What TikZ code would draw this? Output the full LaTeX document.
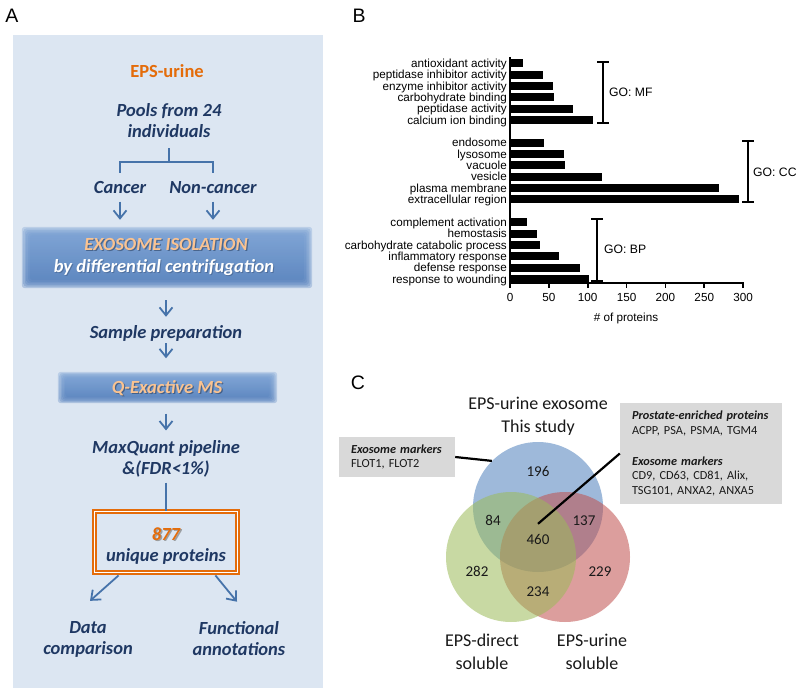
\documentclass[tikz,border=0pt]{standalone}
\usepackage{fontspec}
\setmainfont{Carlito}
\newfontfamily\arialf{Liberation Sans}
\usetikzlibrary{arrows.meta,calc}
\definecolor{panelbg}{RGB}{220,230,242}
\definecolor{navy}{RGB}{31,56,99}
\definecolor{steel}{RGB}{70,115,170}
\definecolor{orng}{RGB}{228,108,10}
\definecolor{lorng}{RGB}{250,195,145}
\definecolor{bandtop}{RGB}{118,158,210}
\definecolor{bandbot}{RGB}{82,126,188}
\definecolor{boxgray}{RGB}{217,217,217}
\definecolor{vblue}{RGB}{79,129,189}
\definecolor{vred}{RGB}{192,80,77}
\definecolor{vgreen}{RGB}{155,187,89}
\definecolor{shadowc}{RGB}{40,60,90}
\definecolor{txt}{RGB}{25,25,25}
\begin{document}
\begin{tikzpicture}[x=1pt,y=-1pt,
  atext/.style={font=\fontsize{18.5}{21}\selectfont\bfseries\itshape, text=navy, align=center, inner sep=0pt},
  one/.style={text height=13pt, text depth=4pt},
  arr/.style={draw=steel, line width=1.8pt, -{Straight Barb[length=8pt,width=13pt,line width=1.8pt]}},
  conn/.style={draw=steel, line width=1.7pt},
  plabel/.style={font=\arialf\fontsize{19.5}{22}\selectfont, inner sep=0pt},
  blabel/.style={font=\arialf\fontsize{11.7}{12}\selectfont, inner sep=0pt, text height=8.4pt, text depth=0pt},
  golabel/.style={font=\arialf\fontsize{12.2}{13}\selectfont, inner sep=0pt, text height=8.7pt, text depth=0pt, anchor=west},
  axisl/.style={line width=1.6pt},
  brkt/.style={line width=2pt},
  band/.style={inner sep=0pt},
  dbox/.style={draw=orng, line width=1.8pt, double=white, double distance=1.6pt, inner sep=0pt, minimum width=143pt, minimum height=61pt},
  vc/.style={circle, minimum size=130pt, inner sep=0pt, fill opacity=0.55},
  vnum/.style={font=\fontsize{15}{16}\selectfont, text=txt, inner sep=0pt, text height=10pt, text depth=0pt},
  vlab/.style={font=\fontsize{18}{23}\selectfont, text=txt, align=center, inner sep=0pt},
  gbox/.style={fill=boxgray, align=left, inner xsep=12pt, inner ysep=0pt, font=\fontsize{12.3}{14.5}\selectfont, text=txt},
  lead/.style={line width=2.2pt, draw=black}
]
\useasboundingbox (0,0) rectangle (800,695);
\fill[white] (0,0) rectangle (800,695);

% ---------------- Panel A ----------------
\node[plabel] (labA) at (12,16) {A};
\fill[panelbg] (13,35) rectangle (323,688);
\node[atext, one, text=orng, font=\fontsize{18.5}{21}\selectfont\bfseries] (eps) at (167,73) {EPS-urine};
\node[atext] (pools) at (169,121) {Pools from 24\\individuals};
\node[atext, one] (cancer) at (120,189) {Cancer};
\node[atext, one] (noncancer) at (213,189) {Non-cancer};
\coordinate (split) at (169,162);
\draw[conn, shorten <=10pt] (pools.south) -- (split);
\draw[conn] ([yshift=7.5pt]cancer.north) |- (split) -| ([yshift=7.5pt]noncancer.north);

% exosome isolation band
\node[band, minimum width=290pt, minimum height=61pt] (iso) at (167,257.5) {};
\foreach \k in {0,...,5}
  \shade[top color=bandtop, bottom color=bandbot, opacity=0.32, rounded corners=3pt]
    ($(iso.south west)+(\k*1.6,-\k*1.6)$) rectangle ($(iso.north east)+(-\k*1.6,\k*1.6)$);
\node[atext, one, text=shadowc, opacity=0.55] (isoshadow) at (167.3,247.3) {EXOSOME ISOLATION};
\node[atext, one, text=lorng] (isot) at (166,246) {EXOSOME ISOLATION};
\node[atext, one, text=shadowc, opacity=0.35] (isobshadow) at (165,269) {by differential centrifugation};
\node[atext, one, text=white] (isob) at (164,268) {by differential centrifugation};
\draw[arr, shorten <=4pt, shorten >=7pt] (cancer.south) -- (cancer.south |- iso.north);
\draw[arr, shorten <=4pt, shorten >=7pt] (noncancer.south) -- (noncancer.south |- iso.north);

\node[atext, one] (sample) at (166,334) {Sample preparation};
\draw[arr, shorten <=12pt, shorten >=8.5pt] (sample.north |- iso.south) -- (sample.north);

% Q-Exactive band
\node[band, minimum width=219pt, minimum height=31pt] (qex) at (167.5,387.5) {};
\foreach \k in {0,...,5}
  \shade[top color=bandtop, bottom color=bandbot, opacity=0.32, rounded corners=3pt]
    ($(qex.south west)+(\k*1.5,-\k*1.2)$) rectangle ($(qex.north east)+(-\k*1.5,\k*1.2)$);
\node[atext, one, text=shadowc, opacity=0.55] (qexshadow) at (168.3,390.3) {Q-Exactive MS};
\node[atext, one, text=lorng] (qext) at (167,389) {Q-Exactive MS};
\draw[arr, shorten <=0.5pt, shorten >=13.5pt] (sample.south) -- (sample.south |- qex.north);

\node[atext] (maxq) at (166,459) {MaxQuant pipeline\\\&(FDR<1\%)};
\draw[arr, shorten <=10.5pt, shorten >=10pt] (maxq.north |- qex.south) -- (maxq.north);

\node[dbox] (box) at (166,542) {};
\draw[conn, shorten <=5pt] (maxq.south) -- (maxq.south |- box.north);
\node[atext, one, text=gray, opacity=0.7] (n877shadow) at (167.4,537.4) {877};
\node[atext, one, text=orng] (n877) at (166,536) {877};
\node[atext, one] (uniq) at (166,557) {unique proteins};

\node[atext] (data) at (88,639) {Data\\comparison};
\node[atext] (func) at (239,639) {Functional\\annotations};
\draw[arr] ([xshift=25pt,yshift=-2pt]box.south west) -- ([xshift=2pt,yshift=20pt]data.north);
\draw[arr] ([xshift=-23pt,yshift=-2pt]box.south east) -- ([xshift=-2pt,yshift=20pt]func.north);

% ---------------- Panel B ----------------
\node[plabel] (labB) at (359,16) {B};
\foreach \i/\v/\t in {0/17/antioxidant activity, 1/43/peptidase inhibitor activity, 2/55/enzyme inhibitor activity, 3/56/carbohydrate binding, 4/81/peptidase activity, 5/107/calcium ion binding,
  7/44/endosome, 8/70/lysosome, 9/71/vacuole, 10/119/vesicle, 11/269/plasma membrane, 12/295/extracellular region,
  14/22/complement activation, 15/35/hemostasis, 16/38/carbohydrate catabolic process, 17/63/inflammatory response, 18/90/defense response, 19/102/response to wounding} {
  \pgfmathsetmacro\yy{63.3+\i*11.35}
  \pgfmathsetmacro\xx{510+\v*0.777}
  \fill (511,{\yy-4}) rectangle (\xx,{\yy+4});
  \node[blabel, anchor=east] (lab\i) at (507,\yy) {\t};
}
\draw[axisl] (510,57) -- (510,283) -- (744,283);
\foreach \v in {0,50,...,300} {
  \draw[axisl] ({510+\v*0.777},283) -- ({510+\v*0.777},287.5);
  \node[blabel] (tick\v) at ({510+\v*0.777},297) {\v};
}
\node[blabel] (xlab) at (626,317) {\# of proteins};
\draw[brkt] (597,62) -- (609,62) (603,62) -- (603,123) (597,123) -- (609,123);
\node[golabel] (gomf) at (609,92) {GO: MF};
\draw[brkt] (742,141) -- (754,141) (748,141) -- (748,202) (742,202) -- (754,202);
\node[golabel] (gocc) at (753,172) {GO: CC};
\draw[brkt] (591,219) -- (603,219) (597,219) -- (597,281) (591,281) -- (603,281);
\node[golabel] (gobp) at (604,249) {GO: BP};

% ---------------- Panel C ----------------
\node[plabel] (labC) at (358,383) {C};
\node[vc, fill=vblue] (blue) at (538,507) {};
\node[vc, fill=vred] (red) at (565,557) {};
\node[vc, fill=vgreen] (green) at (511,557) {};
\node[vnum] (n196) at (538,471) {196};
\node[vnum] (n84) at (493,520) {84};
\node[vnum] (n137) at (584,520) {137};
\node[vnum] (n460) at (538,539) {460};
\node[vnum] (n282) at (477,571) {282};
\node[vnum] (n229) at (600,571) {229};
\node[vnum] (n234) at (538,591) {234};
\node[vlab] (lblue) at (538,416) {EPS-urine exosome\\This study};
\node[vlab] (lgreen) at (482,652) {EPS-direct\\soluble};
\node[vlab] (lred) at (592,652) {EPS-urine\\soluble};
\node[gbox, minimum width=116pt, minimum height=40pt, text width=92pt] (lbox) at (397,457)
  {\textbf{\textit{Exosome markers}}\\FLOT1, FLOT2};
\node[gbox, minimum width=162pt, minimum height=101pt, text width=138pt] (rbox) at (701,453.5)
  {\textbf{\textit{Prostate-enriched proteins}}\\ACPP, PSA, PSMA, TGM4\\[16.5pt]\textbf{\textit{Exosome markers}}\\CD9, CD63, CD81, Alix,\\TSG101, ANXA2, ANXA5};
\draw[lead] (lbox.east) -- (blue.135);
\draw[lead] (rbox.west) -- ([yshift=10pt]n460.north);
\end{tikzpicture}
\end{document}
